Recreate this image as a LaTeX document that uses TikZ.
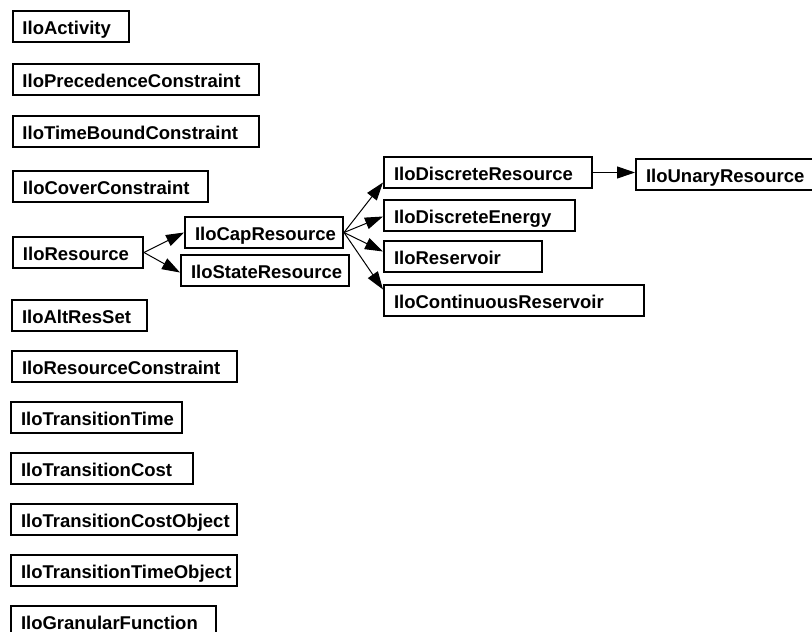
\documentclass[tikz,border=0pt]{standalone}
\usepackage{fontspec}
\setmainfont{Liberation Sans}
\usetikzlibrary{arrows.meta}
\begin{document}
\begin{tikzpicture}[x=1pt,y=-1pt,
  cls/.style={draw, line width=2pt, anchor=north west, align=left,
    inner xsep=10pt, inner ysep=0pt, minimum height=31pt,
    text height=15pt, text depth=0pt,
    font=\fontsize{18.5}{18.5}\selectfont\bfseries},
  inherit/.style={line width=1pt, -{Triangle[length=18pt,width=12pt]}}]
\useasboundingbox (0,0) rectangle (812,632);
\clip (0,0) rectangle (812,632);

% left column of classes
\node[cls, text width=96.5pt]  (act)   at (11.5,10)  {IloActivity};
\node[cls, text width=226.5pt] (prec)  at (11.5,63)  {IloPrecedenceConstraint};
\node[cls, text width=226.5pt] (tbc)   at (11.5,115) {IloTimeBoundConstraint};
\node[cls, text width=175pt]   (cover) at (12,170)   {IloCoverConstraint};
\node[cls, text width=110pt]   (res)   at (12,236)   {IloResource};
\node[cls, text width=115pt]   (alt)   at (11,299)   {IloAltResSet};
\node[cls, text width=205pt]   (rc)    at (11,350)   {IloResourceConstraint};
\node[cls, text width=151pt]   (ttime) at (10,401)   {IloTransitionTime};
\node[cls, text width=162pt]   (tcost) at (10,452)   {IloTransitionCost};
\node[cls, text width=206pt]   (tco)   at (10,503)   {IloTransitionCostObject};
\node[cls, text width=206pt]   (tto)   at (10,554)   {IloTransitionTimeObject};
\node[cls, text width=185pt]   (gran)  at (10,605)   {IloGranularFunction};

% resource hierarchy
\node[cls, text width=138pt] (cap)   at (184,216) {IloCapResource};
\node[cls, text width=148pt] (state) at (180,254) {IloStateResource};
\node[cls, text width=188pt] (dres)  at (383,156) {IloDiscreteResource};
\node[cls, text width=185pt] (unary) at (635,158) {IloUnaryResource};
\node[cls, text width=171pt] (den)   at (383,199) {IloDiscreteEnergy};
\node[cls, text width=138pt] (resv)  at (383,240) {IloReservoir};
\node[cls, text width=240pt] (cres)  at (383,284) {IloContinuousReservoir};

\draw[inherit] (res.east) -- (cap.west);
\draw[inherit] (res.east) -- ([yshift=-2pt]state.west);
\draw[inherit] (cap.east) -- ([yshift=-10pt]dres.west);
\draw[inherit] (cap.east) -- ([yshift=-1pt]den.west);
\draw[inherit] (cap.east) -- ([yshift=5pt]resv.west);
\draw[inherit] (cap.east) -- ([yshift=11pt]cres.west);
\draw[inherit] (dres.east) -- (dres.east -| unary.west);
\end{tikzpicture}
\end{document}
